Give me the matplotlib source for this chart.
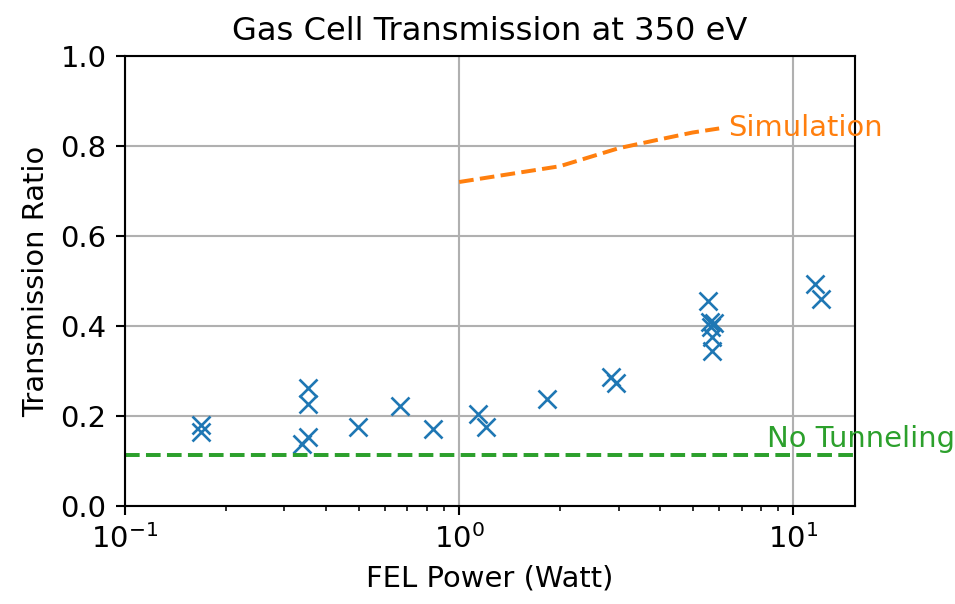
import matplotlib
matplotlib.use("Agg")
import matplotlib.pyplot as plt

# Measured data
power = [0.169, 0.169, 0.352, 0.352, 0.352, 0.339, 0.497, 0.666, 0.838, 1.135, 1.205,
         1.83, 2.85, 2.95, 5.55, 5.62, 5.78, 5.68, 5.73, 5.73, 11.6, 12.1]
ratio = [0.180, 0.165, 0.262, 0.227, 0.154, 0.137, 0.176, 0.223, 0.171, 0.204, 0.176,
         0.237, 0.287, 0.274, 0.456, 0.410, 0.406, 0.398, 0.376, 0.345, 0.493, 0.459]

sim_power = [1, 2, 3, 4, 5, 6]
sim_ratio = [0.720, 0.755, 0.795, 0.815, 0.830, 0.839]

no_tunnel = 0.113

fig = plt.figure(figsize=(955/190, 604/190), dpi=190)
ax = fig.add_axes([125/955, 98/604, 730/955, 450/604])

ax.plot(power, ratio, 'x', color='C0', markersize=7)
ax.plot(sim_power, sim_ratio, '--', color='C1')
ax.axhline(no_tunnel, ls='--', color='C2')

ax.text(6.39, 0.84, 'Simulation', color='C1', va='center', ha='left', fontsize=11)
ax.text(8.36, 0.131, 'No Tunneling', color='C2', va='baseline', ha='left', fontsize=11, clip_on=False)

ax.set_xscale('log')
ax.set_xlim(0.1, 15.3)
ax.set_ylim(0, 1)
ax.grid(True, which='major')
ax.tick_params(labelsize=11)
ax.set_xlabel('FEL Power (Watt)', fontsize=11)
ax.set_ylabel('Transmission Ratio', fontsize=11)
ax.set_title('Gas Cell Transmission at 350 eV', fontsize=12.2)

fig.savefig('out.png', dpi=190)
